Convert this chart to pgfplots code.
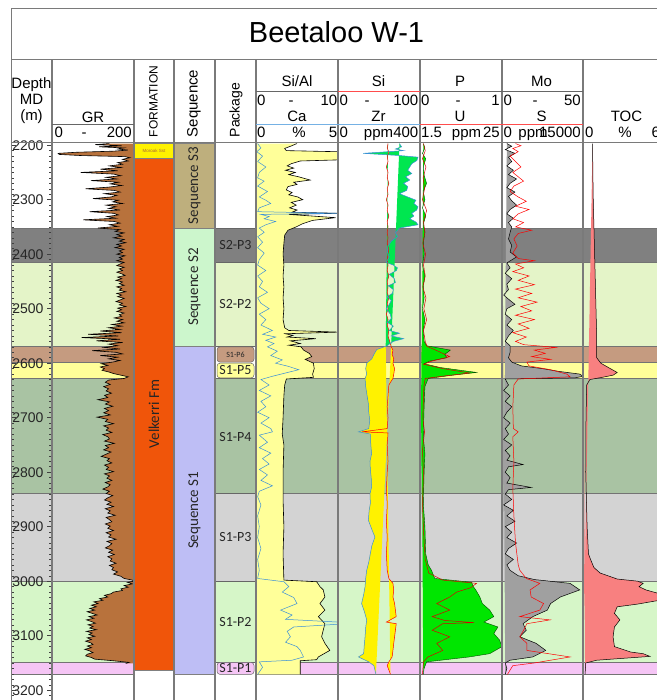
\documentclass[border=0pt]{standalone}
\usepackage{pgfplots}
\pgfplotsset{compat=1.18}
\usepgfplotslibrary{fillbetween}
\usepackage{fontspec}
\setmainfont{Liberation Sans}
\newfontfamily\calfont{Carlito}

\definecolor{cP3}{HTML}{808080}
\definecolor{cSTwoPTwo}{HTML}{E4F4C8}
\definecolor{cPSix}{HTML}{C59B80}
\definecolor{cPFive}{HTML}{FFFF99}
\definecolor{cPFour}{HTML}{A9C3A3}
\definecolor{cPThree}{HTML}{D3D3D3}
\definecolor{cPTwo}{HTML}{D6F6C8}
\definecolor{cPOne}{HTML}{F5C5F5}
\definecolor{seqS3}{HTML}{BEAF7D}
\definecolor{seqS2}{HTML}{CCF6CC}
\definecolor{seqS1}{HTML}{BEBEF5}
\definecolor{fmOr}{HTML}{F0550A}
\definecolor{grfill}{HTML}{B8723C}
\definecolor{sialfill}{HTML}{FFFF99}
\definecolor{zrgreen}{HTML}{00E650}
\definecolor{pgreen}{HTML}{00E600}
\definecolor{mogray}{HTML}{A0A0A0}
\definecolor{tocfill}{HTML}{F88080}
\definecolor{sepgray}{HTML}{7A7A7A}
\definecolor{cablue}{HTML}{3A8FD8}

\pgfplotsset{
  track/.style={scale only axis, width=#1, height=557pt, y dir=reverse,
    ymin=2196, ymax=3218, hide axis, anchor=north west, clip=true, set layers},
}
\tikzset{hd/.style={font=\fontsize{15}{15}\selectfont, anchor=base, inner sep=0pt},
  pk/.style={font=\calfont\fontsize{14}{14}\selectfont, text=black!85}}

\newcommand{\band}[3]{%
 \addplot[fill=#1, draw=black!55, line width=0.5pt] coordinates {(11,#2) (134,#2) (134,#3) (11,#3)} --cycle;
 \addplot[fill=#1, draw=black!55, line width=0.5pt] coordinates {(256,#2) (665,#2) (665,#3) (256,#3)} --cycle;}
\newcommand{\pkbox}[3]{%
 \addplot[fill=#1, draw=black!60, line width=0.5pt] coordinates {(215,#2) (256,#2) (256,#3) (215,#3)} --cycle;}
\newcommand{\pkround}[3]{%
 \addplot[fill=#1, draw=black!60, line width=0.5pt, rounded corners=3pt] coordinates {(217,#2) (254,#2) (254,#3) (217,#3)} --cycle;}

\begin{document}
\begin{tikzpicture}
% ---------- background bands, formation, sequence, packages ----------
\begin{axis}[track=654pt, at={(11pt,-143pt)}, xmin=11, xmax=665,
  every axis plot/.append style={on layer=axis background}]
\band{cP3}{2352}{2415}
\band{cSTwoPTwo}{2415}{2569}
\band{cPSix}{2569}{2599}
\band{cPFive}{2599}{2628}
\band{cPFour}{2628}{2838}
\band{cPThree}{2838}{3000}
\band{cPTwo}{3000}{3148}
\band{cPOne}{3148}{3171}
% formation
\addplot[fill=yellow, draw=black!50, line width=0.4pt] coordinates {(134,2196) (174,2196) (174,2224) (134,2224)} --cycle;
\addplot[fill=fmOr, draw=black!50, line width=0.4pt] coordinates {(134,2224) (174,2224) (174,3163) (134,3163)} --cycle;
% sequences
\addplot[fill=seqS3, draw=black!50, line width=0.4pt] coordinates {(174,2196) (215,2196) (215,2352) (174,2352)} --cycle;
\addplot[fill=seqS2, draw=black!50, line width=0.4pt] coordinates {(174,2352) (215,2352) (215,2569) (174,2569)} --cycle;
\addplot[fill=seqS1, draw=black!50, line width=0.4pt] coordinates {(174,2569) (215,2569) (215,3171) (174,3171)} --cycle;
% packages
\pkbox{cP3}{2352}{2415}
\pkbox{cSTwoPTwo}{2415}{2569}
\pkround{cPSix}{2570}{2598}
\pkround{cPFive}{2600}{2627}
\pkbox{cPFour}{2628}{2838}
\pkbox{cPThree}{2838}{3000}
\pkbox{cPTwo}{3000}{3148}
\pkround{cPOne}{3149}{3171}
\node[font=\fontsize{4.5}{4.5}\selectfont, text=black!60!yellow!60!red] at (axis cs:154,2210) {Moroak Sst};
\node[rotate=90, font=\calfont\fontsize{15}{15}\selectfont, text=black!85] at (axis cs:154,2693) {Velkerri Fm};
\node[rotate=90, font=\calfont\fontsize{15}{15}\selectfont, text=black!85] at (axis cs:194.5,2274) {Sequence S3};
\node[rotate=90, font=\calfont\fontsize{15}{15}\selectfont, text=black!85] at (axis cs:194.5,2460) {Sequence S2};
\node[rotate=90, font=\calfont\fontsize{15}{15}\selectfont, text=black!85] at (axis cs:194.5,2870) {Sequence S1};
\node[pk] at (axis cs:235.5,2383) {S2-P3};
\node[pk] at (axis cs:235.5,2492) {S2-P2};
\node[pk, font=\calfont\fontsize{8}{8}\selectfont] at (axis cs:235.5,2584) {S1-P6};
\node[pk] at (axis cs:235.5,2613) {S1-P5};
\node[pk] at (axis cs:235.5,2735) {S1-P4};
\node[pk] at (axis cs:235.5,2919) {S1-P3};
\node[pk] at (axis cs:235.5,3074) {S1-P2};
\node[pk] at (axis cs:235.5,3160) {S1-P1};
\end{axis}

% ---------- depth track ----------
\begin{axis}[scale only axis, width=41pt, height=557pt, at={(11pt,-143pt)}, anchor=north west,
  y dir=reverse, ymin=2196, ymax=3218, xmin=0, xmax=1,
  axis line style={draw=none}, xtick=\empty,
  ytick={2200,2300,...,3200}, minor ytick={2200,2210,...,3210},
  ytick pos=both, yticklabel pos=right, tick align=inside,
  major tick length=5pt, minor tick length=3pt,
  tick style={black!75, line width=0.5pt},
  yticklabel style={anchor=east, xshift=-5pt, font=\fontsize{14}{14}\selectfont, text=black!85},
  /pgf/number format/assume math mode=true, /pgf/number format/1000 sep={}]
\addplot[draw=none] coordinates {(0,2200)};
\end{axis}

% ---------- GR ----------
\begin{axis}[track=82pt, at={(52pt,-143pt)}, xmin=0, xmax=200]
\addplot[draw=none, name path=grR] coordinates {(200,2197) (200,3151)};
\addplot[black, line width=0.6pt, name path=gr] coordinates {
(140,2197) (105,2199) (170,2201) (115,2203) (175,2205) (160,2207) (185,2209) (150,2211) (60,2213) (15,2215) (18,2217) (70,2219)
(178,2221) (190,2223) (172,2226) (186,2229) (160,2232) (172,2235) (140,2238) (168,2241) (118,2244) (160,2247) (70,2250) (150,2253)
(168,2256) (132,2259) (158,2262) (95,2265) (162,2268) (142,2271) (170,2274) (138,2277) (82,2280) (152,2283) (166,2286) (128,2289)
(158,2292) (144,2295) (100,2298) (162,2301) (148,2304) (172,2307) (132,2310) (156,2313) (138,2316) (166,2319) (92,2322) (150,2325)
(162,2328) (134,2331) (156,2334) (76,2337) (152,2340) (166,2343) (140,2346) (160,2349) (112,2352) (166,2355) (154,2358) (176,2361)
(158,2364) (170,2367) (150,2370) (176,2373) (164,2376) (180,2379) (158,2382) (170,2385) (154,2388) (176,2391) (164,2394) (172,2397)
(158,2400) (178,2403) (164,2406) (172,2409) (158,2412) (176,2415) (166,2418) (158,2421) (176,2424) (164,2427) (172,2430) (158,2433)
(170,2436) (178,2439) (160,2442) (170,2445) (156,2448) (172,2451) (164,2454) (176,2457) (158,2460) (170,2463) (164,2466) (180,2469)
(158,2472) (170,2475) (160,2478) (176,2481) (166,2484) (156,2487) (172,2490) (164,2493) (180,2496) (160,2499) (170,2502) (158,2505)
(176,2508) (164,2511) (170,2514) (152,2517) (172,2520) (158,2523) (176,2526) (146,2529) (170,2532) (138,2535) (166,2538) (118,2541)
(170,2544) (88,2547) (162,2550) (72,2553) (166,2556) (108,2559) (172,2562) (138,2565) (160,2568) (126,2571) (166,2574) (98,2577)
(156,2580) (172,2583) (118,2586) (160,2589) (138,2592) (166,2595) (148,2598) (120,2601) (136,2604) (118,2607) (128,2610) (122,2613)
(138,2616) (150,2619) (168,2622) (186,2625) (176,2628) (138,2631) (130,2635) (142,2639) (126,2643) (138,2647) (132,2651) (145,2655)
(128,2659) (136,2663) (112,2667) (140,2671) (130,2675) (148,2679) (128,2683) (138,2687) (126,2691) (142,2695) (110,2699) (136,2703)
(130,2707) (150,2711) (126,2715) (138,2719) (132,2723) (146,2727) (124,2731) (136,2735) (140,2739) (128,2743) (152,2747) (130,2751)
(138,2755) (126,2759) (144,2763) (132,2767) (120,2771) (140,2775) (134,2779) (146,2783) (128,2787) (138,2791) (132,2795) (150,2799)
(128,2803) (140,2807) (134,2811) (146,2815) (130,2819) (142,2823) (136,2827) (124,2831) (140,2835) (132,2839) (148,2843) (136,2847)
(128,2851) (144,2855) (134,2859) (150,2863) (130,2867) (142,2871) (136,2875) (154,2879) (132,2883) (140,2887) (146,2891) (130,2895)
(142,2899) (136,2903) (150,2907) (132,2911) (144,2915) (138,2919) (156,2923) (134,2927) (146,2931) (140,2935) (130,2939) (148,2943)
(138,2947) (152,2951) (136,2955) (146,2959) (142,2963) (156,2967) (140,2971) (150,2975) (146,2979) (160,2983) (150,2987) (168,2991)
(176,2995) (196,2998) (200,3000) (184,3002) (196,3005) (176,3008) (186,3011) (168,3014) (172,3017) (150,3020) (144,3023) (128,3026)
(136,3029) (116,3032) (124,3035) (102,3038) (112,3041) (96,3044) (108,3047) (92,3050) (104,3053) (86,3056) (98,3059) (110,3062)
(90,3065) (102,3068) (84,3071) (96,3074) (106,3077) (88,3080) (100,3083) (92,3086) (108,3089) (84,3092) (98,3095) (90,3098)
(104,3101) (86,3104) (96,3107) (82,3110) (94,3113) (100,3116) (86,3119) (96,3122) (80,3125) (92,3128) (100,3131) (86,3134)
(82,3137) (96,3140) (104,3143) (150,3146) (188,3149) (180,3151)};
\addplot[grfill] fill between[of=gr and grR];
\end{axis}

% ---------- Si/Al & Ca ----------
\begin{axis}[track=82pt, at={(256pt,-143pt)}, xmin=0, xmax=10]
\addplot[draw=none, name path=slL] coordinates {(0,2197) (0,3171)};
\addplot[black, line width=0.6pt, name path=sial] coordinates {
(5.0,2197) (4.2,2202) (3.5,2206) (3.7,2210) (10,2212) (10,2227) (5.4,2229) (4.3,2234) (3.8,2238) (4.6,2242) (3.6,2246) (4.8,2250)
(4.0,2254) (5.2,2258) (6.6,2264) (4.6,2268) (5.0,2272) (3.9,2276) (3.7,2282) (4.4,2287) (4.0,2291) (5.1,2295) (5.7,2300) (4.3,2305)
(4.9,2310) (4.1,2315) (5.0,2319) (4.4,2323) (10,2325) (4.0,2327) (9.7,2333) (6.9,2338) (5.7,2344) (4.9,2350) (3.9,2356) (3.5,2365)
(3.4,2380) (3.3,2400) (3.4,2420) (3.3,2440) (3.4,2460) (3.3,2480) (3.4,2500) (3.3,2520) (3.5,2535) (4.0,2540) (10,2543) (3.6,2546)
(4.5,2549) (3.8,2552) (7.3,2555) (4.2,2559) (5.4,2564) (4.0,2567) (5.5,2570) (5.8,2576) (6.5,2582) (6.8,2588) (6.0,2593) (7.0,2600)
(7.1,2610) (6.9,2620) (7.0,2626) (3.7,2629) (3.5,2640) (3.4,2660) (3.3,2700) (3.2,2730) (3.4,2750) (3.3,2800) (3.3,2850) (3.4,2900)
(3.3,2950) (3.4,2998) (7.4,3001) (7.8,3010) (8.2,3016) (8.4,3029) (7.8,3041) (8.4,3053) (7.6,3065) (8.4,3078) (8.2,3090) (8.0,3102)
(8.4,3114) (9.0,3127) (7.6,3139) (7.4,3144) (5.4,3146) (5.4,3171)};
\addplot[sialfill] fill between[of=sial and slL];
\addplot[cablue, line width=0.5pt, x filter/.expression={x*2}] coordinates {
(0.1,2197) (0.3,2205) (0.05,2212) (0.4,2220) (0.1,2230) (0.6,2240) (0.2,2250) (0.1,2260) (0.5,2266) (0.1,2275) (0.7,2285) (0.2,2295)
(0.6,2301) (0.9,2307) (0.2,2315) (0.1,2322) (5.0,2325) (0.3,2327) (0.8,2331) (0.5,2335) (1.2,2340) (0.6,2346) (0.2,2352) (0.5,2360)
(0.1,2368) (0.4,2378) (0.1,2388) (0.5,2398) (0.2,2410) (0.1,2420) (0.6,2430) (0.1,2440) (0.4,2450) (0.2,2460) (0.7,2470) (0.1,2480)
(0.3,2490) (0.8,2500) (0.2,2510) (0.6,2520) (0.3,2530) (1.0,2540) (0.4,2547) (1.2,2552) (0.6,2558) (1.1,2564) (0.7,2570) (1.3,2578)
(0.9,2586) (1.6,2594) (1.2,2600) (2.0,2606) (2.6,2612) (1.8,2618) (1.0,2624) (0.3,2630) (0.8,2640) (0.2,2650) (0.9,2660) (0.3,2670)
(0.6,2680) (0.1,2690) (0.8,2700) (0.3,2710) (0.9,2720) (1.0,2726) (0.2,2732) (0.7,2745) (0.2,2755) (0.9,2765) (0.4,2775) (0.8,2785)
(0.2,2795) (0.7,2805) (0.3,2815) (1.0,2825) (0.2,2835) (0.1,2845) (0.3,2860) (0.1,2880) (0.2,2900) (0.1,2920) (0.3,2940) (0.1,2960)
(0.2,2980) (0.1,2995) (1.7,3001) (2.0,3010) (1.6,3020) (2.3,3030) (2.5,3041) (1.5,3053) (2.2,3062) (1.8,3070) (5.0,3075) (5.0,3079)
(2.3,3084) (1.9,3092) (2.1,3102) (1.8,3112) (2.5,3120) (2.7,3127) (2.9,3139) (2.2,3145) (0.2,3148) (0.4,3158) (0.1,3171)};
\end{axis}

% ---------- Si & Zr ----------
\begin{axis}[track=82pt, at={(338pt,-143pt)}, xmin=0, xmax=100]
\addplot[red, line width=0.5pt, name path=si] coordinates {
(61,2197) (60,2205) (62,2213) (60,2220) (61,2230) (59,2240) (61,2250) (60,2260) (62,2270) (60,2280) (61,2290) (59,2300) (61,2310)
(60,2320) (62,2330) (60,2340) (61,2350) (60,2360) (61,2370) (60,2380) (62,2390) (61,2400) (60,2410) (61,2420) (60,2430) (62,2440)
(60,2450) (61,2460) (60,2470) (62,2480) (60,2490) (61,2500) (59,2510) (61,2520) (60,2530) (62,2540) (61,2550) (63,2560) (65,2570)
(67,2576) (66,2584) (68,2592) (67,2600) (69,2610) (68,2620) (67,2628) (62,2640) (61,2660) (60,2680) (61,2700) (60,2720) (29,2726)
(61,2728) (60,2750) (61,2780) (60,2800) (59,2830) (60,2860) (59,2890) (60,2920) (59,2950) (60,2980) (62,2995) (67,3004) (68,3016)
(67,3029) (69,3041) (70,3053) (71,3065) (59,3075) (71,3078) (70,3090) (69,3102) (68,3114) (67,3127) (66,3139) (62,3148) (60,3155)
(64,3171)};
\addplot[cablue, line width=0.5pt, name path=zr, x filter/.expression={x/4}] coordinates {
(300,2197) (310,2203) (280,2207) (320,2210) (123,2215) (300,2219) (390,2222) (385,2228) (360,2234) (350,2240) (340,2246) (360,2252)
(330,2258) (350,2264) (320,2270) (340,2276) (335,2283) (300,2289) (340,2295) (380,2301) (370,2307) (390,2313) (384,2319) (360,2325)
(370,2330) (350,2335) (380,2341) (390,2346) (300,2352) (280,2360) (290,2368) (260,2376) (245,2385) (240,2395) (250,2405) (235,2415)
(270,2420) (290,2425) (285,2430) (250,2437) (275,2445) (280,2452) (245,2458) (270,2465) (265,2472) (240,2478) (260,2485) (250,2492)
(235,2500) (255,2510) (260,2518) (240,2525) (270,2532) (250,2540) (300,2545) (260,2550) (320,2555) (270,2560) (250,2565) (240,2568)
(189,2575) (175,2584) (165,2592) (140,2600) (135,2610) (140,2620) (132,2628) (135,2643) (142,2660) (148,2674) (150,2690) (155,2705)
(150,2720) (100,2726) (158,2730) (160,2750) (164,2766) (156,2780) (158,2796) (162,2810) (164,2827) (156,2840) (158,2857) (152,2870)
(148,2888) (165,2905) (180,2919) (165,2935) (158,2949) (150,2965) (140,2980) (135,2995) (132,3010) (125,3025) (115,3041) (128,3055)
(140,3071) (135,3085) (132,3102) (128,3118) (125,3133) (100,3139) (150,3148) (175,3155) (180,3163) (185,3171)};
\addplot[zrgreen] fill between[of=si and zr, soft clip={domain y=2196:2569}];
\addplot[yellow] fill between[of=si and zr, soft clip={domain y=2569:3172}];
\end{axis}

% ---------- P & U ----------
\begin{axis}[track=82pt, at={(420pt,-143pt)}, xmin=0, xmax=1]
\addplot[draw=none, name path=pL] coordinates {(0,2197) (0,3171)};
\addplot[black!70!green, line width=0.4pt, name path=p] coordinates {
(0.04,2197) (0.06,2205) (0.03,2215) (0.07,2225) (0.04,2240) (0.05,2255) (0.08,2270) (0.04,2285) (0.06,2300) (0.03,2315) (0.07,2330)
(0.04,2345) (0.06,2360) (0.04,2380) (0.05,2400) (0.03,2420) (0.06,2440) (0.04,2460) (0.05,2480) (0.03,2500) (0.06,2520) (0.04,2540)
(0.05,2560) (0.08,2568) (0.37,2576) (0.30,2584) (0.33,2590) (0.12,2596) (0.05,2601) (0.25,2608) (0.69,2617) (0.40,2622) (0.10,2628)
(0.06,2643) (0.05,2680) (0.04,2735) (0.06,2766) (0.05,2800) (0.04,2857) (0.06,2900) (0.07,2950) (0.10,2970) (0.14,2980) (0.18,2995)
(0.63,3002) (0.65,3010) (0.68,3016) (0.73,3029) (0.76,3041) (0.85,3053) (0.90,3065) (0.78,3075) (0.95,3084) (0.90,3096) (0.97,3108)
(1.0,3120) (0.85,3133) (0.60,3139) (0.08,3148) (0.05,3160) (0.04,3171)};
\addplot[pgreen] fill between[of=p and pL];
\addplot[red!85!black, line width=0.5pt, x filter/.expression={(x-1.5)/23.5}] coordinates {
(2.5,2197) (3.0,2210) (2.2,2225) (3.2,2240) (2.4,2260) (2.8,2280) (2.2,2300) (3.4,2320) (2.5,2340) (2.9,2360) (2.3,2380) (3.1,2400)
(2.5,2420) (3.0,2440) (2.3,2460) (3.2,2480) (2.6,2500) (3.4,2520) (2.5,2540) (3.0,2560) (3.5,2569) (6,2576) (10,2588) (5,2596)
(2.5,2602) (8,2610) (15.8,2618) (9,2623) (3,2628) (2.6,2643) (2.3,2700) (2.8,2726) (2.2,2760) (2.5,2800) (2.2,2860) (2.6,2920)
(3.0,2960) (4.0,2985) (8.0,2998) (17.7,3004) (16,3012) (12,3020) (10,3029) (6.3,3041) (10,3053) (5,3065) (8.5,3072) (17,3076)
(8,3078) (5,3090) (10,3102) (6.3,3114) (8,3127) (3.8,3139) (2.5,3148) (2.2,3171)};
\end{axis}

% ---------- Mo & S ----------
\begin{axis}[track=81pt, at={(502pt,-143pt)}, xmin=0, xmax=50]
\addplot[draw=none, name path=moL] coordinates {(0,2197) (0,3171)};
\addplot[black, line width=0.5pt, name path=mo] coordinates {
(3,2197) (6,2202) (2,2208) (8,2215) (4,2222) (6,2230) (3,2238) (7,2246) (4,2254) (9,2262) (5,2270) (3,2278) (8,2286) (4,2294)
(6,2302) (9,2310) (5,2318) (3,2326) (7,2334) (4,2342) (6,2350) (5,2360) (4,2372) (6,2384) (5,2396) (9,2405) (3,2416) (5,2425)
(2,2435) (6,2445) (3,2455) (4,2465) (1,2475) (5,2485) (8,2492) (3,2500) (2,2510) (6,2520) (3,2530) (7,2540) (4,2550) (2,2560)
(5,2568) (5,2580) (4,2590) (6,2598) (12,2605) (25,2610) (35,2615) (48,2620) (50,2624) (45,2627) (2,2629) (4,2640) (1,2650) (5,2660)
(2,2670) (6,2680) (3,2690) (1,2700) (5,2710) (2,2720) (4,2730) (1,2740) (6,2750) (2,2760) (5,2770) (3,2778) (13,2786) (4,2790)
(2,2800) (5,2810) (3,2820) (18,2828) (4,2832) (2,2840) (6,2850) (1,2860) (7,2870) (3,2880) (8,2890) (2,2900) (6,2910) (3,2920)
(9,2930) (4,2940) (2,2950) (7,2960) (3,2970) (5,2980) (10,2990) (20,2997) (42,3004) (48,3016) (36,3029) (30,3041) (28,3053)
(19,3065) (13,3078) (15,3090) (11,3102) (21,3114) (27,3127) (19,3139) (5,3145) (2,3150) (3,3160) (2,3171)};
\addplot[mogray] fill between[of=mo and moL];
\addplot[red, line width=0.5pt, x filter/.expression={x/300}] coordinates {
(2500,2197) (3500,2201) (2000,2206) (3000,2212) (1500,2220) (2500,2230) (3500,2240) (2000,2250) (3000,2258) (4000,2266) (2200,2275)
(1500,2285) (3000,2295) (4500,2303) (2500,2312) (5000,2318) (3000,2326) (2000,2335) (4000,2342) (2500,2350) (5500,2356) (3000,2362)
(2200,2372) (2800,2385) (2000,2398) (3000,2408) (6000,2412) (2500,2418) (4000,2425) (2000,2432) (5000,2440) (3000,2448) (6000,2456)
(2500,2464) (5500,2472) (3000,2480) (6500,2488) (3500,2496) (5500,2504) (2500,2512) (6000,2520) (3000,2528) (5000,2536) (2000,2544)
(4500,2552) (2500,2560) (4000,2566) (10000,2571) (6000,2576) (8000,2582) (5500,2588) (9000,2593) (4600,2598) (5000,2605) (9000,2612)
(12000,2620) (12600,2625) (3000,2629) (2200,2640) (2000,2680) (2100,2720) (3000,2726) (2000,2735) (2200,2780) (2000,2830) (2200,2880)
(2500,2930) (3000,2970) (3300,2980) (4500,2995) (7000,3004) (5200,3016) (5400,3029) (7700,3041) (7000,3053) (3300,3065) (8900,3071)
(4600,3078) (4000,3090) (3300,3102) (4600,3114) (4600,3127) (12600,3139) (9000,3145) (6000,3150) (2000,3155) (1000,3171)};
\end{axis}

% ---------- TOC ----------
\begin{axis}[track=82pt, at={(583pt,-143pt)}, xmin=0, xmax=6]
\addplot[draw=none, name path=tL] coordinates {(0,2197) (0,3171)};
\addplot[black, line width=0.5pt, name path=toc] coordinates {
(0.7,2197) (0.72,2250) (0.75,2300) (0.8,2350) (0.85,2400) (0.9,2450) (0.95,2500) (1.0,2550) (1.0,2590) (1.3,2600) (2.0,2610)
(2.5,2617) (2.2,2622) (1.4,2626) (0.5,2630) (0.27,2640) (0.22,2700) (0.2,2800) (0.25,2850) (0.3,2900) (0.4,2950) (0.55,2960)
(0.8,2975) (1.25,2985) (2.5,2996) (4.0,3000) (4.4,3004) (4.1,3010) (4.6,3016) (5.6,3023) (5.6,3035) (4.0,3042) (2.5,3047) (2.3,3059)
(2.7,3071) (2.3,3084) (2.2,3102) (2.3,3120) (3.5,3130) (4.4,3133) (4.9,3138) (1.0,3145) (0.2,3150) (0.15,3171)};
\addplot[tocfill] fill between[of=toc and tL];
\end{axis}

% ---------- frame and separators ----------
\draw[sepgray, line width=1pt] (11pt,-9pt) -- (660pt,-9pt);
\draw[sepgray, line width=1pt] (11pt,-9pt) -- (11pt,-700pt);
\draw[sepgray, line width=1pt] (11pt,-59.5pt) -- (660pt,-59.5pt);
\draw[sepgray, line width=1pt] (11pt,-142.5pt) -- (660pt,-142.5pt);
\foreach \x in {52,134,174,215,256,338,420,502,583}
  \draw[sepgray, line width=1.2pt] (\x pt,-59.5pt) -- (\x pt,-700pt);
% sub-header lines
\draw[black!60, line width=0.8pt] (52pt,-124pt) -- (134pt,-124pt);
\draw[black!60, line width=0.8pt] (256pt,-91pt) -- (338pt,-91pt);
\draw[red!70, line width=0.8pt] (338pt,-91pt) -- (420pt,-91pt);
\draw[black!60, line width=0.8pt] (420pt,-91pt) -- (583pt,-91pt);
\draw[cablue!70, line width=0.8pt] (256pt,-124pt) -- (420pt,-124pt);
\draw[red!70, line width=0.8pt] (420pt,-124pt) -- (583pt,-124pt);

% ---------- texts ----------
\node[font=\fontsize{29}{29}\selectfont, anchor=base, inner sep=0pt] at (336.5pt,-43pt) {Beetaloo W-1};
\node[hd] at (31.5pt,-88.5pt) {Depth};
\node[hd] at (31.5pt,-104.5pt) {MD};
\node[hd] at (31.5pt,-120.5pt) {(m)};
\node[hd] at (93pt,-122.5pt) {GR};
\node[hd, anchor=base west] at (54.5pt,-138pt) {0};
\node[hd] at (84pt,-138pt) {-};
\node[hd, anchor=base east] at (132pt,-138pt) {200};
\node[font=\fontsize{12}{12}\selectfont, rotate=90] at (153.5pt,-101.5pt) {FORMATION};
\node[font=\fontsize{15}{15}\selectfont, rotate=90] at (194pt,-103.5pt) {Sequence};
\node[font=\fontsize{14}{14}\selectfont, rotate=90] at (236pt,-110pt) {Package};
% Si/Al - Ca
\node[hd] at (297pt,-86.5pt) {Si/Al};
\node[hd, anchor=base west] at (257pt,-105.5pt) {0};
\node[hd] at (291pt,-105.5pt) {-};
\node[hd, anchor=base east] at (337.5pt,-105.5pt) {10};
\node[hd] at (297pt,-121.5pt) {Ca};
\node[hd, anchor=base west] at (257pt,-138pt) {0};
\node[hd] at (299pt,-138pt) {\%};
\node[hd, anchor=base east] at (337.5pt,-138pt) {5};
% Si - Zr
\node[hd] at (378.5pt,-86.5pt) {Si};
\node[hd, anchor=base west] at (339.5pt,-105.5pt) {0};
\node[hd] at (367pt,-105.5pt) {-};
\node[hd, anchor=base east] at (418.5pt,-105.5pt) {100};
\node[hd] at (378.5pt,-121.5pt) {Zr};
\node[hd, anchor=base west] at (339.5pt,-138pt) {0};
\node[hd] at (378.5pt,-138pt) {ppm};
\node[hd, anchor=base east] at (418.5pt,-138pt) {400};
% P - U
\node[hd] at (460pt,-86.5pt) {P};
\node[hd, anchor=base west] at (421pt,-105.5pt) {0};
\node[hd] at (458pt,-105.5pt) {-};
\node[hd, anchor=base east] at (500pt,-105.5pt) {1};
\node[hd] at (460pt,-121.5pt) {U};
\node[hd, anchor=base west] at (421pt,-138pt) {1.5};
\node[hd] at (466.5pt,-138pt) {ppm};
\node[hd, anchor=base east] at (500pt,-138pt) {25};
% Mo - S
\node[hd] at (541.5pt,-86.5pt) {Mo};
\node[hd, anchor=base west] at (503.5pt,-105.5pt) {0};
\node[hd] at (535pt,-105.5pt) {-};
\node[hd, anchor=base east] at (581pt,-105.5pt) {50};
\node[hd] at (541.5pt,-121.5pt) {S};
\node[hd, anchor=base west] at (503.5pt,-138pt) {0};
\node[hd] at (533pt,-138pt) {ppm};
\node[hd, anchor=base east] at (581pt,-138pt) {15000};
% TOC
\node[hd] at (626.5pt,-121.5pt) {TOC};
\node[hd, anchor=base west] at (585pt,-138pt) {0};
\node[hd] at (625pt,-138pt) {\%};
\node[hd, anchor=base west] at (651.5pt,-138pt) {6};

\pgfresetboundingbox
\path[use as bounding box] (0pt,0pt) rectangle (656pt,-700pt);
\end{tikzpicture}
\end{document}
